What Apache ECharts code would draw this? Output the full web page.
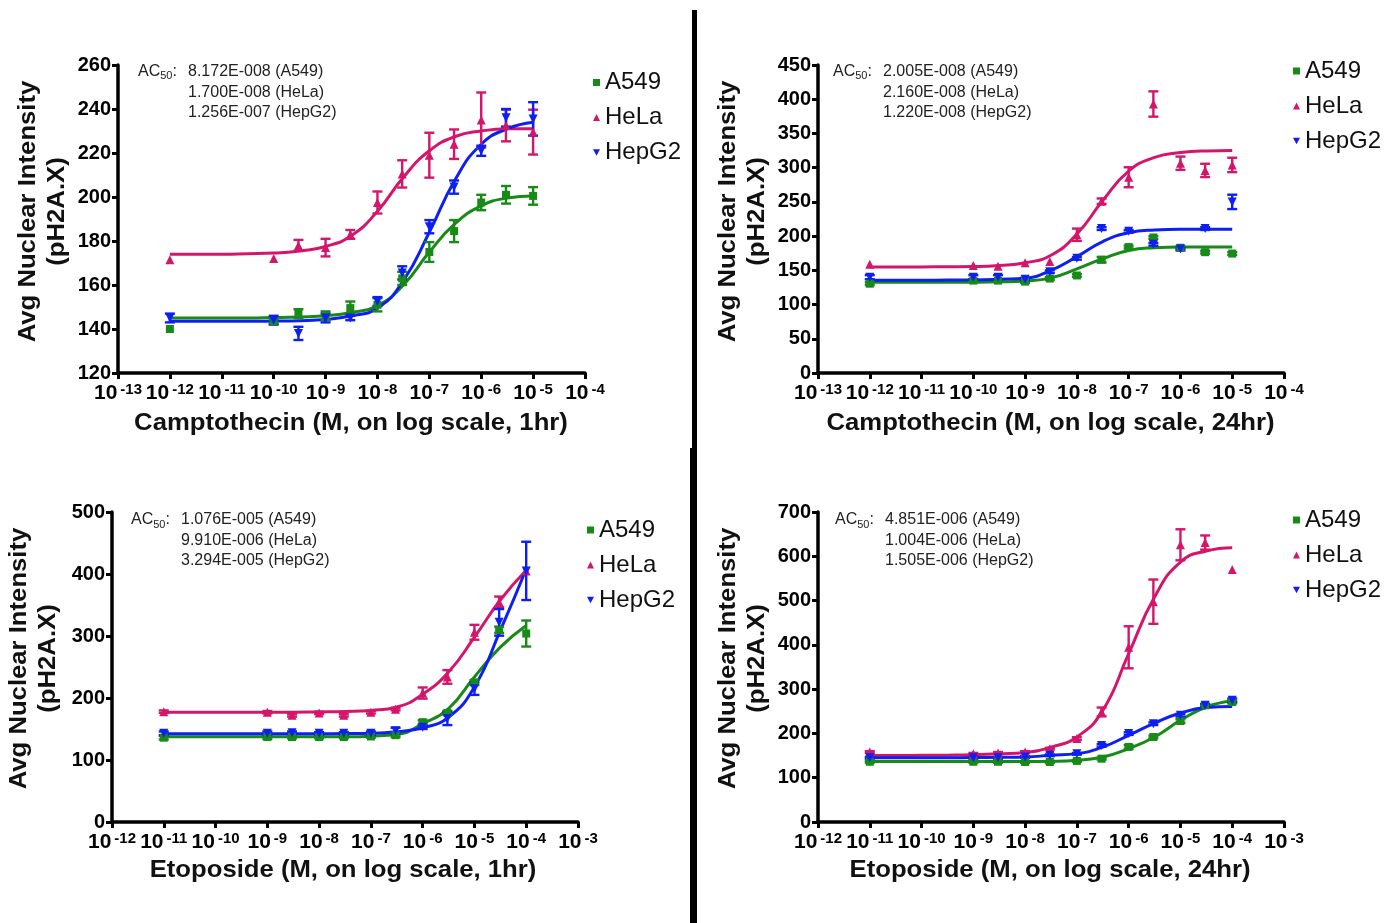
<!DOCTYPE html>
<html><head><meta charset="utf-8">
<script src="https://cdn.jsdelivr.net/npm/echarts@6/dist/echarts.min.js"></script>
<style>html,body{margin:0;padding:0;background:#fff}#c{width:1389px;height:923px}</style>
</head><body><div id="c"></div>
<script>
// ---------- DATA ----------
const cellLines = ['A549', 'HeLa', 'HepG2'];
const doseCpt = [1e-12, 1e-10, 3e-10, 1e-9, 3e-9, 1e-8, 3e-8, 1e-7, 3e-7, 1e-6, 3e-6, 1e-5];
const doseEto = [1e-11, 1e-9, 3e-9, 1e-8, 3e-8, 1e-7, 3e-7, 1e-6, 3e-6, 1e-5, 3e-5, 1e-4];
// fitted-curve sample positions (log10 M)
const fitLogCpt = [-12, -11.5, -11, -10.5, -10, -9.5, -9, -8.5, -8, -7.5, -7, -6.5, -6, -5.5, -5];
const fitLogEto = [-11, -10.5, -10, -9.5, -9, -8.5, -8, -7.5, -7, -6.5, -6, -5.5, -5, -4.5, -4];

// Camptothecin 1hr
const cpt1hA549 = [140, 143.5, 147, 146, 149.5, 151, 163, 175, 184.5, 197.5, 201, 200.5];
const cpt1hA549Err = [0, 1, 2, 2, 3, 3, 3, 4.5, 5, 3.5, 4, 4];
const cpt1hHeLa = [171.5, 172, 178, 177, 183, 197.5, 210.5, 219, 224, 235, 232.5, 229.5];
const cpt1hHeLaErr = [0, 0, 2.5, 4, 2, 5, 6.2, 10.2, 6.7, 12.5, 7.2, 10.2];
const cpt1hHepG2 = [145, 144, 138, 145, 145, 152.5, 165.5, 186.5, 204.5, 221, 236, 235.5];
const cpt1hHepG2Err = [2, 2, 3, 2, 1, 2, 3, 3, 3, 2.3, 4, 7.6];
const cpt1hA549Fit = [145, 145, 145, 145, 145.2, 145.5, 146, 147.5, 150.5, 160, 175, 188, 196, 199.5, 200.5];
const cpt1hHeLaFit = [174, 174, 174, 174.2, 174.5, 175.5, 177.5, 182.5, 193.5, 209, 221, 227.5, 230, 231, 231];
const cpt1hHepG2Fit = [143.5, 143.5, 143.5, 143.5, 143.6, 143.8, 144.3, 146, 149.5, 162, 184, 208, 224, 231, 234];
const ac50Cpt1h = ['8.172E-008', '1.700E-008', '1.256E-007'];

// Camptothecin 24hr
const cpt24hA549 = [130.5, 135, 135, 133.5, 138, 142.5, 165.5, 184, 198, 183, 176.5, 174.5];
const cpt24hA549Err = [2, 2, 2, 2, 2, 2, 4, 2, 2, 2, 2, 2];
const cpt24hHeLa = [159, 157, 156, 161, 163, 202, 251, 286, 393, 306.5, 296, 304];
const cpt24hHeLaErr = [0, 0, 0, 0, 0, 9, 4, 14.6, 18.5, 9.7, 9.7, 10.5];
const cpt24hHepG2 = [140, 140, 140, 137, 148, 167.5, 211, 207, 188, 181, 211, 250];
const cpt24hHepG2Err = [3, 3, 3, 2, 2, 2, 2, 2, 2, 2, 2, 10.5];
const cpt24hA549Fit = [132.5, 132.5, 132.5, 132.6, 132.7, 133.2, 134.5, 139, 152, 167, 179, 183, 184, 184, 184];
const cpt24hHeLaFit = [155, 155, 155, 155.2, 155.5, 157, 161, 172, 203, 252, 295, 315, 322, 324.5, 325];
const cpt24hHepG2Fit = [135.5, 135.5, 135.5, 135.7, 136, 137, 138.5, 150, 170, 192, 205, 209, 210, 210, 210];
const ac50Cpt24h = ['2.005E-008', '2.160E-008', '1.220E-008'];

// Etoposide 1hr
const eto1hA549 = [136, 137, 137, 137, 137, 138, 140, 161, 176, 225, 310, 304];
const eto1hA549Err = [3, 3, 2, 2, 2, 2, 3, 3, 3, 4, 5, 21];
const eto1hHeLa = [178, 177, 172, 176, 172, 177, 182, 208, 234, 306, 355, 405];
const eto1hHeLaErr = [2, 2, 2, 2, 2, 2, 2, 9, 11, 12, 8.6, 0];
const eto1hHepG2 = [143, 143, 144, 143, 143, 143, 147, 153, 167, 215, 322, 405];
const eto1hHepG2Err = [3, 3, 2, 2, 2, 3, 5, 3, 10.7, 10, 21.5, 47];
const eto1hA549Fit = [137.5, 137.5, 137.5, 137.5, 137.5, 137.5, 137.5, 137.6, 138.5, 141, 158.5, 183, 234, 282, 317];
const eto1hHeLaFit = [177, 177, 177, 177, 177, 177, 177.5, 178.2, 180, 185.5, 206, 242, 298, 358, 406];
const eto1hHepG2Fit = [142.5, 142.5, 142.5, 142.5, 142.5, 142.5, 142.5, 142.6, 143, 145.5, 152, 169, 218, 309, 408];
const ac50Eto1h = ['1.076E-005', '9.910E-006', '3.294E-005'];

// Etoposide 24hr
const eto24hA549 = [136, 136, 136, 135.5, 135.5, 138, 143, 169.5, 192, 228, 263.5, 271];
const eto24hA549Err = [2, 2, 2, 2, 2, 2, 2, 4, 3, 4, 3, 3];
const eto24hHeLa = [158, 154, 156, 158, 165.5, 188.5, 248.5, 394.5, 497.5, 626, 631, 570];
const eto24hHeLaErr = [2, 2, 2, 2, 2, 3, 10, 47.5, 50, 35, 16, 0];
const eto24hHepG2 = [145, 145, 145, 146.8, 150.6, 154, 173, 199.6, 222, 241, 263.5, 274.8];
const eto24hHepG2Err = [2, 2, 2, 2, 2, 2, 3, 3, 3, 3, 3, 4];
const eto24hA549Fit = [136.5, 136.5, 136.5, 136.5, 136.5, 136.5, 136.5, 137, 139.3, 146.8, 165.7, 192, 229.6, 259.7, 273];
const eto24hHeLaFit = [150, 150, 150.5, 151, 152, 154, 157, 169, 192, 252, 380, 508, 587, 612, 619.5];
const eto24hHepG2Fit = [145, 145, 145, 145.2, 145.5, 146, 146.8, 150.6, 154.4, 169.4, 195.8, 223.2, 246, 258.3, 261];
const ac50Eto24h = ['4.851E-006', '1.004E-006', '1.505E-006'];

const xTitles = ['Camptothecin (M, on log scale, 1hr)', 'Camptothecin (M, on log scale, 24hr)',
                 'Etoposide (M, on log scale, 1hr)', 'Etoposide (M, on log scale, 24hr)'];
const yTitle = 'Avg Nuclear Intensity\n(pH2A.X)';

// ---------- LAYOUT / STYLE ----------
const FONT = "'Liberation Sans', Arial, Helvetica, sans-serif";
const colors = { A549: '#178a17', HeLa: '#d4166b', HepG2: '#0d1ff2' };
const sym = {
  A549: { symbol: 'rect', size: 8, rot: 0 },
  HeLa: { symbol: 'triangle', size: 9, rot: 0 },
  HepG2: { symbol: 'triangle', size: 9, rot: 180 }
};

const panels = [
  { grid: { left: 118, top: 65, width: 467, height: 308 }, xMin: -13, xMax: -4, yMin: 120, yMax: 260, yInt: 20,
    dose: doseCpt, fitLog: fitLogCpt,
    vals: { A549: cpt1hA549, HeLa: cpt1hHeLa, HepG2: cpt1hHepG2 },
    errs: { A549: cpt1hA549Err, HeLa: cpt1hHeLaErr, HepG2: cpt1hHepG2Err },
    fits: { A549: cpt1hA549Fit, HeLa: cpt1hHeLaFit, HepG2: cpt1hHepG2Fit },
    ac: ac50Cpt1h, xt: [351, 423], yt: [42.5, 211.5], lg: [593, 70], acPos: [138, 188, 71.7] },
  { grid: { left: 818, top: 65, width: 466, height: 308 }, xMin: -13, xMax: -4, yMin: 0, yMax: 450, yInt: 50,
    dose: doseCpt, fitLog: fitLogCpt,
    vals: { A549: cpt24hA549, HeLa: cpt24hHeLa, HepG2: cpt24hHepG2 },
    errs: { A549: cpt24hA549Err, HeLa: cpt24hHeLaErr, HepG2: cpt24hHepG2Err },
    fits: { A549: cpt24hA549Fit, HeLa: cpt24hHeLaFit, HepG2: cpt24hHepG2Fit },
    ac: ac50Cpt24h, xt: [1050.5, 423], yt: [743, 211.5], lg: [1293, 58.5], acPos: [833, 883, 71.7] },
  { grid: { left: 112, top: 512, width: 466, height: 310 }, xMin: -12, xMax: -3, yMin: 0, yMax: 500, yInt: 100,
    dose: doseEto, fitLog: fitLogEto,
    vals: { A549: eto1hA549, HeLa: eto1hHeLa, HepG2: eto1hHepG2 },
    errs: { A549: eto1hA549Err, HeLa: eto1hHeLaErr, HepG2: eto1hHepG2Err },
    fits: { A549: eto1hA549Fit, HeLa: eto1hHeLaFit, HepG2: eto1hHepG2Fit },
    ac: ac50Eto1h, xt: [343, 870], yt: [34, 658.5], lg: [587, 517.5], acPos: [131, 181, 520] },
  { grid: { left: 818, top: 512, width: 466, height: 310 }, xMin: -12, xMax: -3, yMin: 0, yMax: 700, yInt: 100,
    dose: doseEto, fitLog: fitLogEto,
    vals: { A549: eto24hA549, HeLa: eto24hHeLa, HepG2: eto24hHepG2 },
    errs: { A549: eto24hA549Err, HeLa: eto24hHeLaErr, HepG2: eto24hHepG2Err },
    fits: { A549: eto24hA549Fit, HeLa: eto24hHeLaFit, HepG2: eto24hHepG2Fit },
    ac: ac50Eto24h, xt: [1050, 870], yt: [743, 658.5], lg: [1293, 507.5], acPos: [835, 885, 520] }
];

const grids = [], xAxes = [], yAxes = [], series = [], legends = [], graphics = [];

panels.forEach((p, i) => {
  grids.push(Object.assign({ outerBoundsMode: 'none', containLabel: false }, p.grid));
  xAxes.push({
    type: 'value', gridIndex: i, min: p.xMin, max: p.xMax, interval: 1,
    axisLine: { show: true, onZero: false, lineStyle: { color: '#000', width: 3.5 } },
    axisTick: { show: true, length: 6, lineStyle: { color: '#000', width: 3 } },
    splitLine: { show: false },
    axisLabel: {
      margin: 9, showMinLabel: true, showMaxLabel: true,
      formatter: v => '{b|10}{s|' + Math.round(v) + '}',
      rich: {
        b: { fontFamily: FONT, fontWeight: 'bold', fontSize: 21, color: '#000', lineHeight: 23 },
        s: { fontFamily: FONT, fontWeight: 'bold', fontSize: 15, color: '#000', lineHeight: 15, verticalAlign: 'top', padding: [0, 0, 0, 3] }
      }
    }
  });
  yAxes.push({
    type: 'value', gridIndex: i, min: p.yMin, max: p.yMax, interval: p.yInt,
    axisLine: { show: true, onZero: false, lineStyle: { color: '#000', width: 3.5 } },
    axisTick: { show: true, length: 6, lineStyle: { color: '#000', width: 3 } },
    splitLine: { show: false },
    axisLabel: { margin: 7, fontFamily: FONT, fontWeight: 'bold', fontSize: 20, color: '#000', showMinLabel: true, showMaxLabel: true }
  });

  cellLines.forEach(cl => {
    const col = colors[cl];
    series.push({
      type: 'line', name: cl + ' fit', xAxisIndex: i, yAxisIndex: i,
      data: p.fitLog.map((x, k) => [x, p.fits[cl][k]]),
      smooth: 0.5, showSymbol: false, symbol: 'none',
      lineStyle: { color: col, width: 3 }, itemStyle: { color: col }, z: 2, silent: true
    });
  });
  cellLines.forEach(cl => {
    const col = colors[cl];
    series.push({
      type: 'custom', name: cl + ' err', xAxisIndex: i, yAxisIndex: i,
      data: p.dose.map((d, k) => [Math.log10(d), p.vals[cl][k], p.errs[cl][k]]),
      encode: { x: 0, y: 1 }, z: 3, silent: true,
      renderItem: (params, api) => {
        const x = api.value(0), y = api.value(1), e = api.value(2);
        if (!(e > 0)) return null;
        const t = api.coord([x, y + e]), b = api.coord([x, y - e]);
        const hw = 5, st = { stroke: col, lineWidth: 2.4 };
        return { type: 'group', children: [
          { type: 'line', shape: { x1: t[0], y1: t[1], x2: b[0], y2: b[1] }, style: st },
          { type: 'line', shape: { x1: t[0] - hw, y1: t[1], x2: t[0] + hw, y2: t[1] }, style: st },
          { type: 'line', shape: { x1: b[0] - hw, y1: b[1], x2: b[0] + hw, y2: b[1] }, style: st }
        ] };
      }
    });
  });
  cellLines.forEach(cl => {
    const col = colors[cl];
    series.push({
      type: 'scatter', name: cl, xAxisIndex: i, yAxisIndex: i,
      data: p.dose.map((d, k) => [Math.log10(d), p.vals[cl][k]]),
      symbol: sym[cl].symbol, symbolSize: sym[cl].size, symbolRotate: sym[cl].rot,
      itemStyle: { color: col, opacity: 1 }, z: 4, silent: true
    });
  });

  legends.push({
    left: p.lg[0], top: p.lg[1], orient: 'vertical', itemWidth: 7, itemHeight: 7, itemGap: 10,
    selectedMode: false, padding: 0,
    textStyle: { fontFamily: FONT, fontSize: 24, color: '#111', lineHeight: 25 },
    data: [
      { name: 'A549', icon: 'rect' },
      { name: 'HeLa', icon: 'triangle' },
      { name: 'HepG2', icon: 'path://M0,0L10,0L5,9Z' }
    ]
  });

  graphics.push({
    type: 'text', x: p.xt[0], y: p.xt[1], scaleX: 1.07, silent: true,
    style: { text: xTitles[i], fontFamily: FONT, fontWeight: 'bold', fontSize: 24, fill: '#111',
      textAlign: 'center', textVerticalAlign: 'middle', verticalAlign: 'middle' }
  });
  graphics.push({
    type: 'text', x: p.yt[0], y: p.yt[1], rotation: Math.PI / 2, scaleX: 1.07, silent: true,
    style: { text: yTitle, fontFamily: FONT, fontWeight: 'bold', fontSize: 24, fill: '#111', lineHeight: 29,
      textAlign: 'center', textVerticalAlign: 'middle', verticalAlign: 'middle' }
  });
  graphics.push({
    type: 'text', x: p.acPos[0], y: p.acPos[2], silent: true,
    style: { text: '{a|AC}{s|50}{a|:}', fontFamily: FONT, fontSize: 16, fill: '#222',
      textAlign: 'left', textVerticalAlign: 'middle', verticalAlign: 'middle',
      rich: { a: { fontFamily: FONT, fontSize: 16, fill: '#222', lineHeight: 20 },
              s: { fontFamily: FONT, fontSize: 11, fill: '#222', lineHeight: 11, verticalAlign: 'bottom' } } }
  });
  cellLines.forEach((cl, k) => {
    graphics.push({
      type: 'text', x: p.acPos[1], y: p.acPos[2] + k * 20.5, silent: true,
      style: { text: p.ac[k] + ' (' + cl + ')', fontFamily: FONT, fontSize: 16, fill: '#222',
        textAlign: 'left', textVerticalAlign: 'middle', verticalAlign: 'middle' }
    });
  });
});

// panel separators
graphics.push({ type: 'rect', shape: { x: 692, y: 10, width: 5, height: 438 }, style: { fill: '#000' }, silent: true });
graphics.push({ type: 'rect', shape: { x: 690, y: 448, width: 7, height: 475 }, style: { fill: '#000' }, silent: true });

const chart = echarts.init(document.getElementById('c'), null, { renderer: 'canvas' });
chart.setOption({
  backgroundColor: '#fff',
  animation: false,
  grid: grids, xAxis: xAxes, yAxis: yAxes, legend: legends, series: series, graphic: graphics
});
</script>
</body></html>
